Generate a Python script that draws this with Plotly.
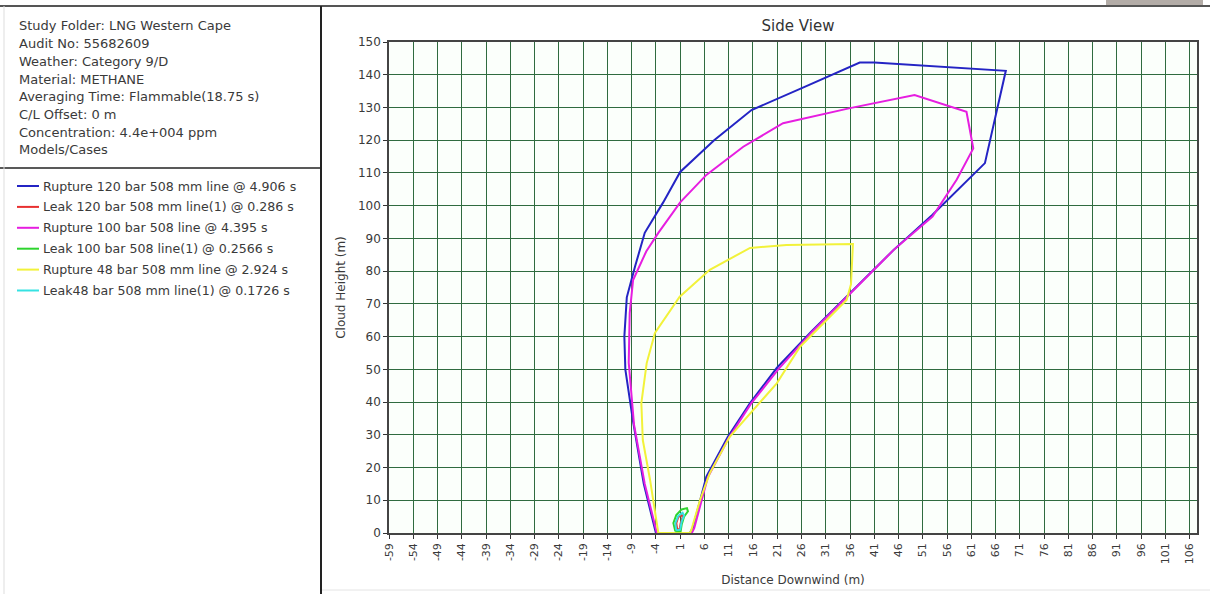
import plotly.graph_objects as go

# ---------------- data ----------------
info_lines = [
    "Study Folder: LNG Western Cape",
    "Audit No: 55682609",
    "Weather: Category 9/D",
    "Material: METHANE",
    "Averaging Time: Flammable(18.75 s)",
    "C/L Offset: 0 m",
    "Concentration: 4.4e+004 ppm",
    "Models/Cases",
]

series_names = [
    "Rupture 120 bar 508 mm line @ 4.906 s",
    "Leak 120 bar 508 mm line(1) @ 0.286 s",
    "Rupture 100 bar 508 line @ 4.395 s",
    "Leak 100 bar 508 line(1) @ 0.2566 s",
    "Rupture 48 bar 508 mm line @ 2.924 s",
    "Leak48 bar 508 mm line(1) @ 0.1726 s",
]
series_colors = ["#2424c4", "#e83030", "#e61ee0", "#2ed42e", "#f2f23a", "#36e2e2"]

rup120_x = [-4.0, -6.5, -8.7, -10.3, -10.5, -10.0, -8.3, -6.3, -2.5, 1.0, 8.0, 15.7, 27.0, 38.0,
            41.0, 68.1, 63.8, 53.0, 45.0, 35.3, 28.0, 20.9, 15.4, 10.8, 6.4, 3.6, 3.0, -4.0]
rup120_y = [0.0, 15.0, 34.0, 50.0, 60.0, 72.0, 81.4, 91.7, 101.0, 110.3, 120.0, 129.2, 136.5, 143.7,
            143.7, 141.2, 113.0, 97.2, 86.5, 72.2, 61.5, 50.4, 39.7, 29.3, 17.2, 1.5, 0.0, 0.0]

leak120_x = [0.4, 0.2, 0.6, 1.3, 1.5, 1.1, 0.9, 0.4]
leak120_y = [1.0, 3.0, 4.8, 5.6, 4.8, 3.0, 1.2, 1.0]

rup100_x = [-3.8, -6.3, -8.5, -9.6, -9.4, -8.7, -6.0, -3.5, 1.0, 6.4, 14.0, 22.2, 36.0, 49.3,
            60.0, 61.4, 58.0, 53.0, 45.0, 35.6, 28.2, 21.2, 15.6, 11.0, 6.7, 3.9, 3.4, -3.8]
rup100_y = [0.0, 15.0, 33.0, 52.0, 67.2, 77.3, 86.0, 91.7, 101.0, 109.4, 118.0, 125.2, 129.8, 133.8,
            128.7, 117.5, 108.0, 96.7, 86.5, 72.5, 61.5, 50.0, 39.5, 29.0, 17.0, 1.5, 0.0, 0.0]

leak100_x = [0.0, -0.4, 0.2, 1.3, 2.4, 2.6, 1.8, 1.3, 1.1, 0.0]
leak100_y = [0.5, 3.0, 5.5, 7.2, 7.6, 6.6, 5.0, 2.5, 0.5, 0.5]

rup48_x = [-3.5, -5.2, -6.7, -7.0, -5.9, -4.2, 0.9, 7.1, 15.4, 22.9, 36.6, 36.2, 35.3, 25.7,
           20.9, 11.2, 7.1, 5.1, 3.3, 3.0, -3.5]
rup48_y = [0.0, 16.2, 28.4, 39.7, 51.9, 61.1, 72.2, 80.4, 87.1, 88.0, 88.3, 76.0, 71.2, 56.9,
           45.7, 29.4, 18.3, 10.1, 0.9, 0.0, 0.0]

leak48_x = [0.2, 0.0, 0.6, 1.5, 1.8, 1.3, 1.0, 0.2]
leak48_y = [0.8, 3.0, 5.2, 6.2, 5.3, 3.5, 1.0, 0.8]

series_x = [rup120_x, leak120_x, rup100_x, leak100_x, rup48_x, leak48_x]
series_y = [rup120_y, leak120_y, rup100_y, leak100_y, rup48_y, leak48_y]

x_ticks = list(range(-59, 107, 5))
y_ticks = list(range(0, 151, 10))

# ---------------- layout geometry (pixels) ----------------
W, H = 1210, 594
PL, PR, PT, PB = 389, 1197, 42, 533   # plot area edges


def px(xpix):
    return (xpix - PL) / (PR - PL)


def py(ypix):
    return (PB - ypix) / (PB - PT)


FONT = "DejaVu Sans"
TXT = "#3a3a3a"

fig = go.Figure()
draw_order = [0, 2, 4, 1, 3, 5]
for i in draw_order:
    fig.add_trace(go.Scatter(
        x=series_x[i], y=series_y[i], mode="lines", name=series_names[i],
        line=dict(color=series_colors[i], width=2), showlegend=False,
        hoverinfo="name",
    ))

shapes = []
annotations = []

# frame lines of the report
shapes.append(dict(type="line", xref="paper", yref="paper", x0=px(0), x1=px(W), y0=py(6), y1=py(6),
                   line=dict(color="#555555", width=2)))
shapes.append(dict(type="line", xref="paper", yref="paper", x0=px(321), x1=px(321), y0=py(6), y1=py(H),
                   line=dict(color="#222222", width=2)))
shapes.append(dict(type="line", xref="paper", yref="paper", x0=px(0), x1=px(321), y0=py(168), y1=py(168),
                   line=dict(color="#222222", width=1.5)))
shapes.append(dict(type="line", xref="paper", yref="paper", x0=px(4), x1=px(4), y0=py(6), y1=py(H),
                   line=dict(color="#dddddd", width=1)))
shapes.append(dict(type="line", xref="paper", yref="paper", x0=px(322), x1=px(W), y0=py(590), y1=py(590),
                   line=dict(color="#e4e4e4", width=1)))
# grey tab at top right
shapes.append(dict(type="rect", xref="paper", yref="paper", x0=px(1106), x1=px(1203), y0=py(0), y1=py(5),
                   fillcolor="#b3aca7", line=dict(width=0)))

# info text
for k, t in enumerate(info_lines):
    annotations.append(dict(xref="paper", yref="paper", x=px(17), y=py(26 + k * 17.7),
                            text=t, showarrow=False, xanchor="left", yanchor="middle",
                            font=dict(family=FONT, size=13, color=TXT)))

# custom legend
for k, (nm, col) in enumerate(zip(series_names, series_colors)):
    yy = 186 + k * 20.9
    shapes.append(dict(type="line", xref="paper", yref="paper", x0=px(17), x1=px(39), y0=py(yy), y1=py(yy),
                       line=dict(color=col, width=2)))
    annotations.append(dict(xref="paper", yref="paper", x=px(41), y=py(yy),
                            text=nm, showarrow=False, xanchor="left", yanchor="middle",
                            font=dict(family=FONT, size=12.6, color=TXT)))

grid_col = "#2f6b3f"
fig.update_layout(
    width=W, height=H,
    margin=dict(l=PL, r=W - PR, t=PT, b=H - PB, pad=0, autoexpand=False),
    paper_bgcolor="white", plot_bgcolor="#fbfffb",
    font=dict(family=FONT, size=12, color=TXT),
    title=dict(text="Side View", x=(798) / W, y=1 - 26 / H, xanchor="center", yanchor="middle",
               font=dict(family=FONT, size=15, color="#333333")),
    shapes=shapes, annotations=annotations,
    xaxis=dict(range=[-59, 107.5], tickvals=x_ticks, ticktext=[str(v) for v in x_ticks],
               tickangle=-90, ticks="outside", ticklen=4, tickcolor="#333333",
               showgrid=True, gridcolor=grid_col, gridwidth=1, automargin=False,
               showline=True, linecolor="#444444", linewidth=1.5, mirror=True,
               zeroline=False, tickfont=dict(size=11, color=TXT),
               title=dict(text="Distance Downwind (m)", standoff=12,
                          font=dict(size=12, color=TXT))),
    yaxis=dict(range=[0, 150], tickvals=y_ticks, ticks="outside", ticklen=4, tickcolor="#333333",
               showgrid=True, gridcolor=grid_col, gridwidth=1, automargin=False,
               showline=True, linecolor="#444444", linewidth=1.5, mirror=True,
               zeroline=False, tickfont=dict(size=12, color=TXT),
               title=dict(text="Cloud Height (m)", standoff=10, font=dict(size=12, color=TXT))),
)

fig.write_html("out.html")
